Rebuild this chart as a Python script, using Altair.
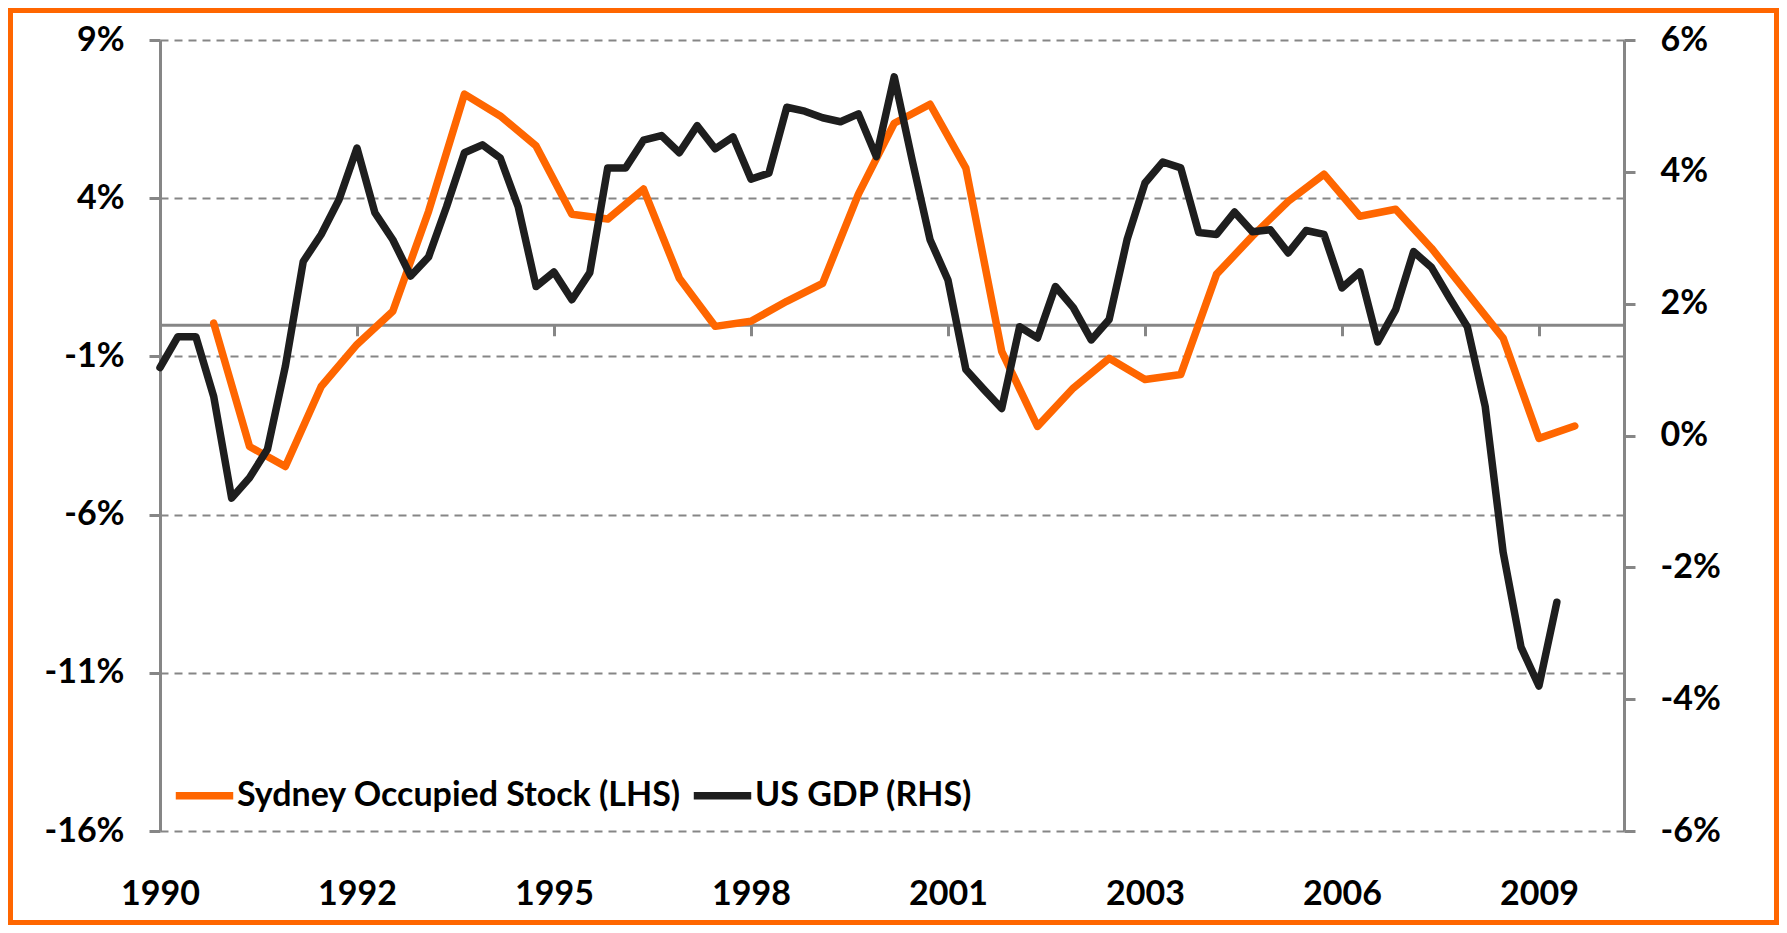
import altair as alt
import pandas as pd

# ---- data ----
tick_labels = ["1990", "1992", "1995", "1998", "2001", "2003", "2006", "2009"]
tick_quarters = [0, 11, 22, 33, 44, 55, 66, 77]      # quarters since 1990 Q1

series_names = ["Sydney Occupied Stock (LHS)", "US GDP (RHS)"]
series_colors = ["#FF6600", "#1E1E1E"]

# US GDP growth (RHS), quarterly from 1990 Q1
gdp_quarters = list(range(0, 79))
gdp_values = [1.03, 1.5, 1.5, 0.59, -0.95, -0.64, -0.21, 1.05, 2.64, 3.05,
              3.58, 4.36, 3.38, 2.97, 2.42, 2.71, 3.47, 4.29, 4.41, 4.21,
              3.47, 2.26, 2.48, 2.06, 2.47, 4.06, 4.06, 4.48, 4.55, 4.29,
              4.70, 4.35, 4.53, 3.89, 3.98, 4.98, 4.92, 4.82, 4.76, 4.88,
              4.23, 5.44, 4.18, 2.97, 2.36, 1.00, 0.70, 0.41, 1.65, 1.48,
              2.26, 1.94, 1.45, 1.76, 2.97, 3.83, 4.15, 4.06, 3.08, 3.05,
              3.39, 3.09, 3.12, 2.77, 3.11, 3.05, 2.24, 2.48, 1.42, 1.91,
              2.79, 2.55, 2.09, 1.65, 0.44, -1.77, -3.21, -3.80, -2.53]

# Sydney occupied stock growth (LHS), half-yearly from 1990 Q4
sydney_quarters = list(range(3, 80, 2))
sydney_values = [0.05, -3.85, -4.48, -1.95, -0.62, 0.43, 3.59, 7.29, 6.60, 5.65,
                 3.49, 3.34, 4.29, 1.47, -0.05, 0.11, 0.74, 1.31, 4.13, 6.37,
                 6.97, 4.95, -0.84, -3.21, -2.00, -1.06, -1.73, -1.57, 1.60, 2.80,
                 3.90, 4.76, 3.43, 3.65, 2.42, 1.00, -0.42, -3.59, -3.20]

left_ticks = [-16, -11, -6, -1, 4, 9]
right_ticks = [-6, -4, -2, 0, 2, 4, 6]
left_domain = [-16, 9]
right_domain = [-6, 6]
x_domain = [0, 81.75]


def qlabel(i):
    return f"{1990 + i // 4}Q{i % 4 + 1}"


df_gdp = pd.DataFrame({"q": gdp_quarters, "v": gdp_values,
                       "period": [qlabel(i) for i in gdp_quarters],
                       "s": series_names[1]})
df_syd = pd.DataFrame({"q": sydney_quarters, "v": sydney_values,
                       "period": [qlabel(i) for i in sydney_quarters],
                       "s": series_names[0]})

# ---- layout / style ----
W, H = 1464, 791
PAD = {"left": 152, "top": 32, "right": 155, "bottom": 94}
FONT = "Lato"
GRAY = "#868686"
FS = 34
LW = 7.5

x_scale = alt.Scale(domain=x_domain, nice=False, zero=False)
left_scale = alt.Scale(domain=left_domain, nice=False, zero=False)
right_scale = alt.Scale(domain=right_domain, nice=False, zero=False)
color_scale = alt.Scale(domain=series_names, range=series_colors)

label_expr = ("[" + ",".join(f"'{t}'" for t in tick_labels) + "][indexof(["
              + ",".join(str(v) for v in tick_quarters) + "], datum.value)]")
# the category axis crosses the left axis at 0
zero_offset = -H * (0 - left_domain[0]) / (left_domain[1] - left_domain[0])

border = alt.Chart(pd.DataFrame({"a": [0]})).mark_rect(
    fillOpacity=0, stroke="#FF6600", strokeWidth=5
).encode(
    x=alt.value(-PAD["left"] + 2.5), x2=alt.value(W + PAD["right"] - 2.5),
    y=alt.value(-PAD["top"] + 2.5), y2=alt.value(H + PAD["bottom"] - 2.5),
)

legend = alt.Legend(
    title=None, orient="none", legendX=12, legendY=723, direction="horizontal",
    symbolType="stroke", symbolStrokeWidth=LW, symbolSize=3300,
    labelFont=FONT, labelFontSize=34, labelFontWeight="bold", labelColor="black",
    labelOffset=0, columnPadding=-4, padding=0, labelLimit=0,
)

sydney = alt.Chart(df_syd).mark_line(
    strokeWidth=LW, strokeCap="round", strokeJoin="round"
).encode(
    x=alt.X("q:Q", scale=x_scale, axis=alt.Axis(
        values=tick_quarters, labelExpr=label_expr, domain=False, ticks=False,
        grid=False, labelPadding=46, title=None, orient="bottom", labelFlush=False,
        labelFont=FONT, labelFontSize=FS, labelFontWeight="bold", labelColor="black")),
    y=alt.Y("v:Q", scale=left_scale, axis=alt.Axis(
        values=left_ticks, orient="left", title=None,
        labelExpr="datum.value + '%'",
        labelFont=FONT, labelFontSize=FS, labelFontWeight="bold", labelColor="black",
        labelPadding=25, domainColor=GRAY, domainWidth=3, tickColor=GRAY,
        tickWidth=3, tickSize=11, grid=True, gridColor=GRAY, gridWidth=2,
        gridDash=[8, 6])),
    color=alt.Color("s:N", scale=color_scale, legend=legend),
)

gdp = alt.Chart(df_gdp).mark_line(
    strokeWidth=LW, strokeCap="round", strokeJoin="round"
).encode(
    x=alt.X("q:Q", scale=x_scale, axis=alt.Axis(
        values=tick_quarters, labels=False, domain=True, ticks=True, grid=False,
        orient="bottom", offset=zero_offset, title=None, domainColor=GRAY,
        domainWidth=3, tickColor=GRAY, tickWidth=3, tickSize=11)),
    y=alt.Y("v:Q", scale=right_scale, axis=alt.Axis(
        values=right_ticks, orient="right", title=None, grid=False,
        labelExpr="datum.value + '%'",
        labelFont=FONT, labelFontSize=FS, labelFontWeight="bold", labelColor="black",
        labelPadding=25, domainColor=GRAY, domainWidth=3, tickColor=GRAY,
        tickWidth=3, tickSize=11)),
    color=alt.Color("s:N", scale=color_scale, legend=legend),
)

chart = alt.layer(border, sydney, gdp).resolve_scale(
    y="independent"
).resolve_axis(
    x="independent", y="independent"
).properties(
    width=W, height=H, padding=PAD,
    autosize=alt.AutoSizeParams(type="none"),
    background="white",
).configure_view(stroke=None)

chart.save("out.html", embed_options={"renderer": "svg", "actions": False})
